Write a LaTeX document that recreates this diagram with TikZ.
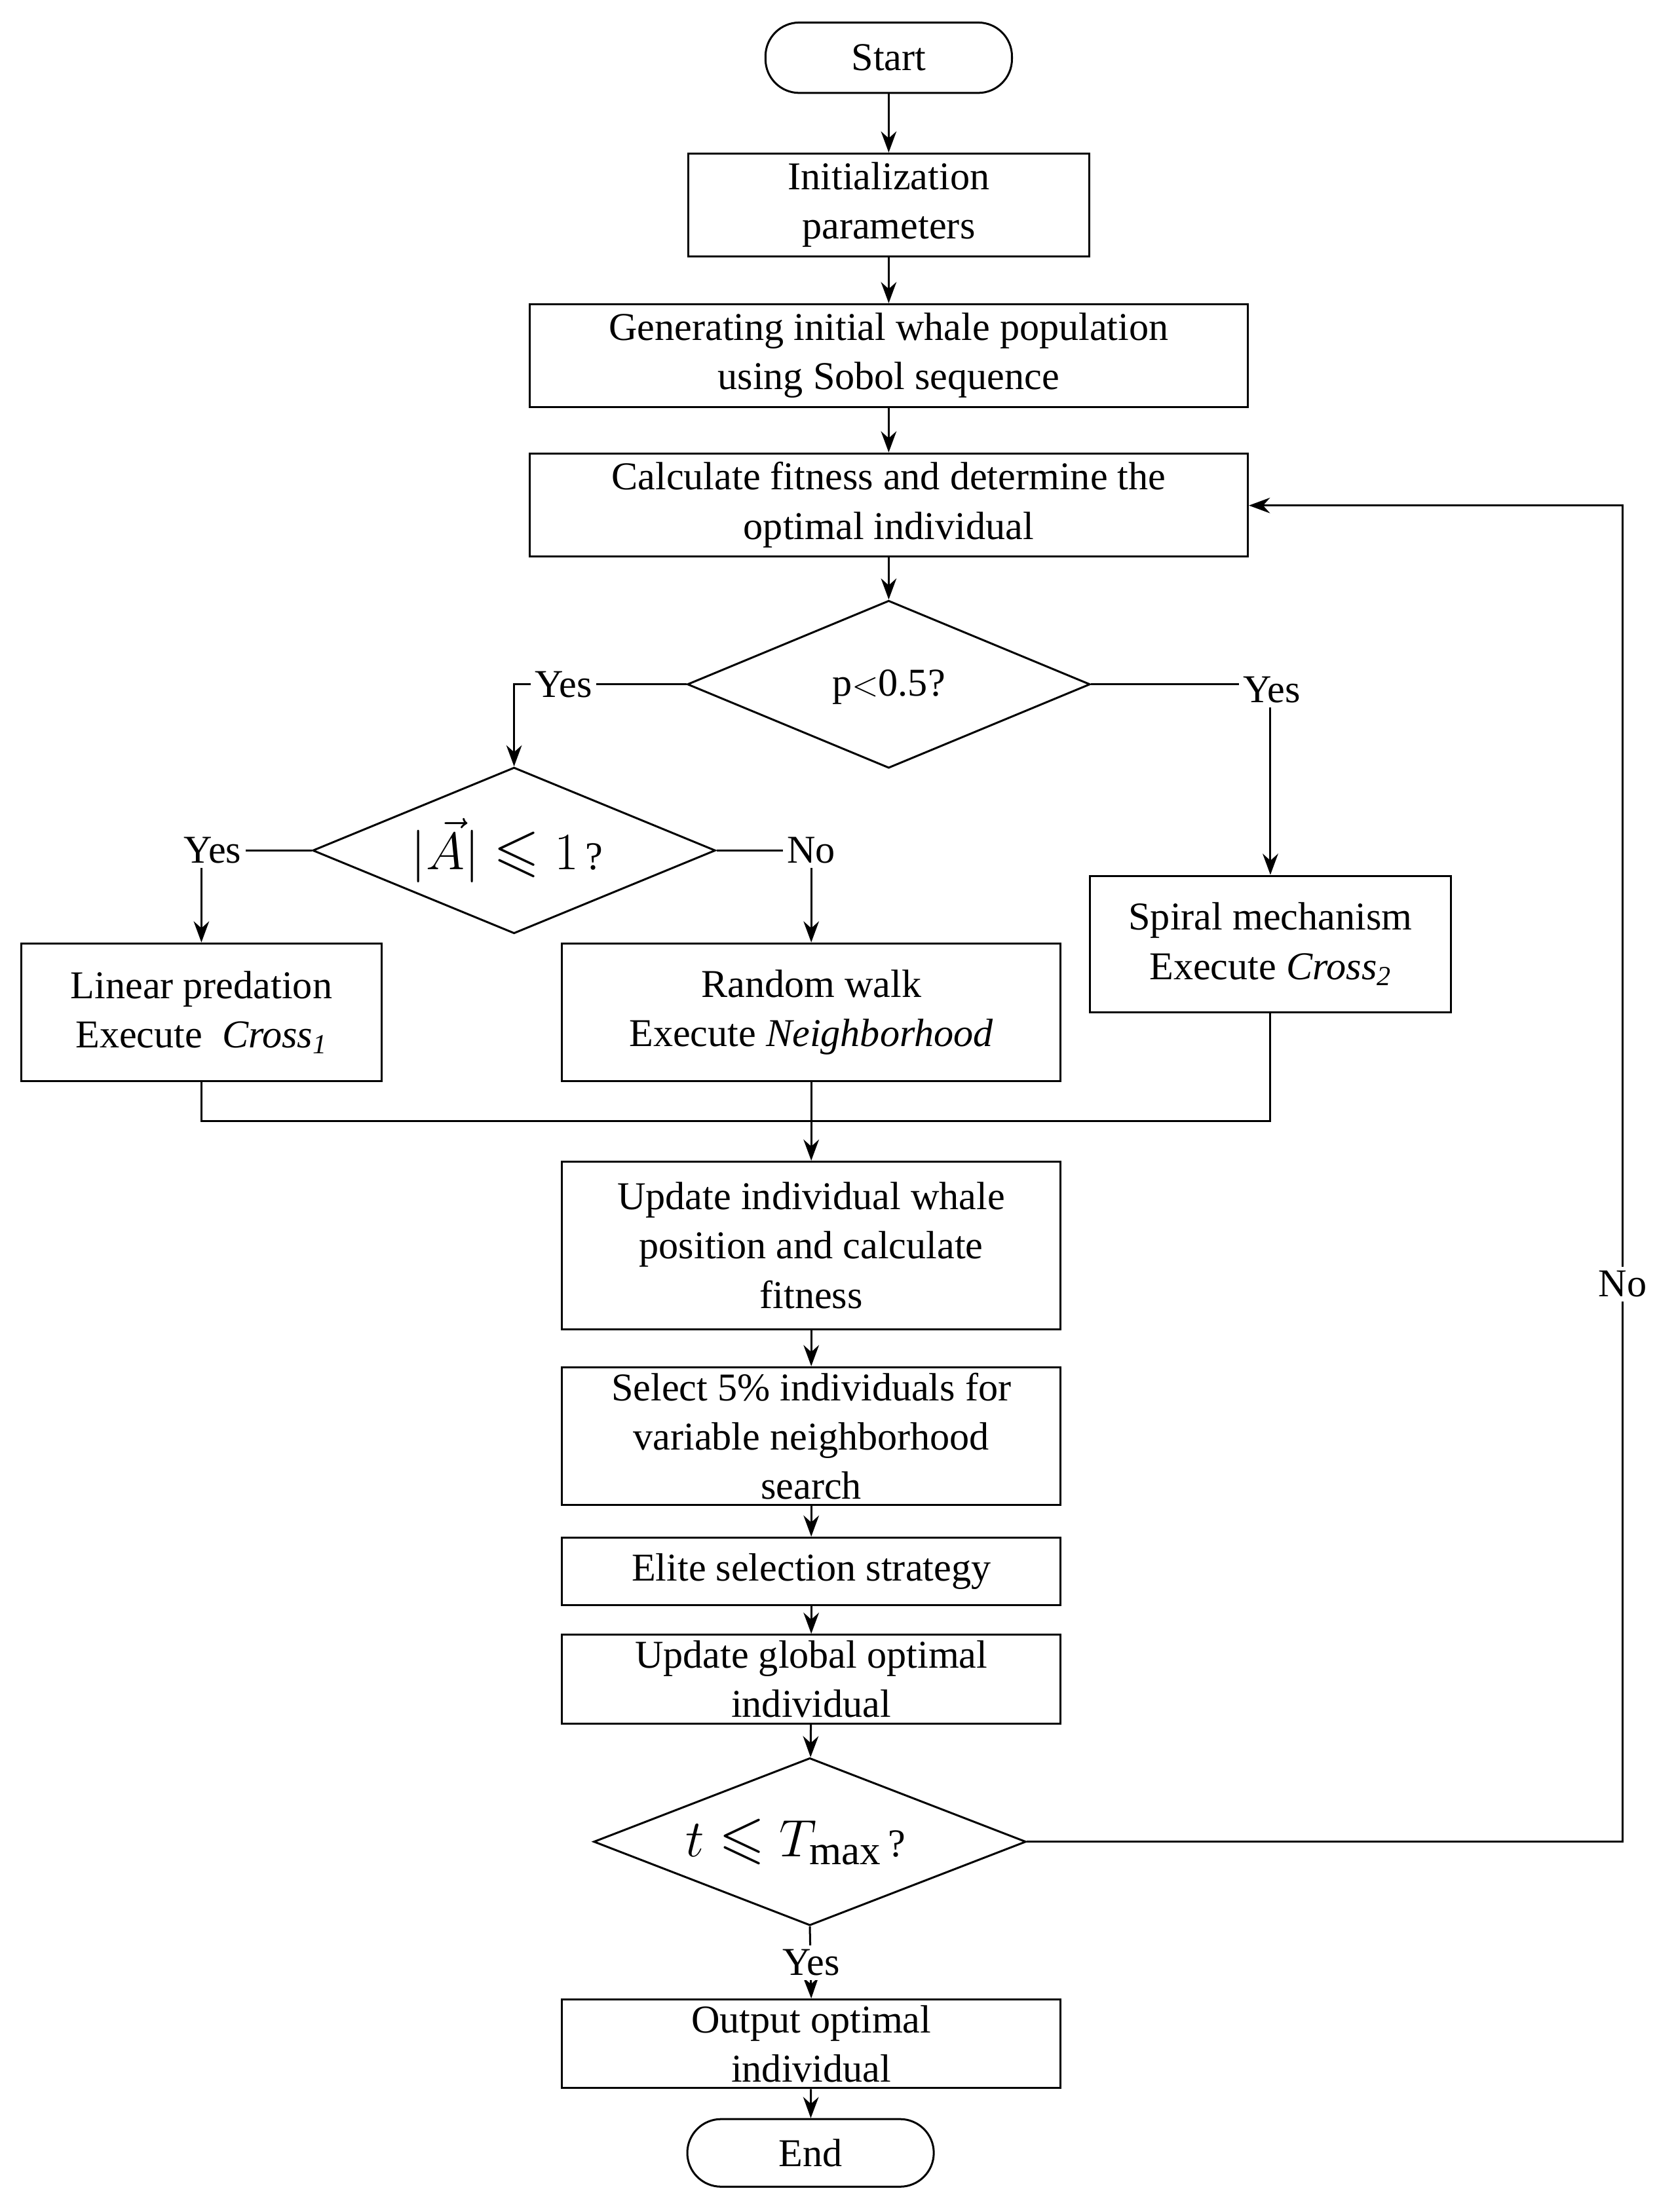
\documentclass[tikz,border=0pt]{standalone}
\usepackage{amssymb}
\usepackage{graphicx}
\usepackage{fontspec}
\setmainfont{Liberation Serif}
\usetikzlibrary{arrows.meta,shapes.geometric}
\begin{document}
\begin{tikzpicture}[x=1pt,y=-1pt,
  every node/.style={font=\fontsize{28}{35}\selectfont},
  box/.style={draw,line width=1.4pt,align=center,inner sep=0pt},
  term/.style={draw,line width=1.4pt,rounded corners=24pt,inner sep=0pt},
  dia/.style={draw,line width=1.4pt,diamond,inner sep=0pt,aspect=2.4},
  arr/.style={line width=1.4pt,-{Stealth[length=15pt,width=11pt]}},
  ln/.style={line width=1.4pt},
  lab/.style={fill=white,inner sep=3pt}]
\useasboundingbox (0,0) rectangle (1190,1571);
\node[term,minimum width=175pt,minimum height=50pt] (start) at (631,41) {Start};
\node[box,minimum width=285pt,minimum height=73pt] (init) at (631,145.5) {Initialization\\parameters};
\node[box,minimum width=510pt,minimum height=73pt] (gen) at (631,252.5) {Generating initial whale population\\using Sobol sequence};
\node[box,minimum width=510pt,minimum height=73pt] (calc) at (631,358.5) {Calculate fitness and determine the\\optimal individual};
\node[dia,minimum width=286pt,minimum height=119pt] (d1) at (631,486) {};
\node at (631,488) {p$<$0.5?};
\node[dia,minimum width=286pt,minimum height=118pt] (d2) at (365,604) {};
\node at (360,604) {\scalebox{1.5}{$\bigl|\vec{A}\bigr|\leqslant 1$}\,?};
\node[box,minimum width=256pt,minimum height=98pt] (lin) at (143,719) {Linear predation\\Execute\ \ \textit{Cross}\textsubscript{\textit{1}}};
\node[box,minimum width=354pt,minimum height=98pt] (rnd) at (576,719) {Random walk\\Execute \textit{Neighborhood}};
\node[box,minimum width=256pt,minimum height=97pt] (spi) at (902,670.5) {Spiral mechanism\\Execute \textit{Cross}\textsubscript{\textit{2}}};
\node[box,minimum width=354pt,minimum height=119pt] (upd) at (576,884.5) {Update individual whale\\position and calculate\\fitness};
\node[box,minimum width=354pt,minimum height=98pt] (sel) at (576,1020) {Select 5\% individuals for\\variable neighborhood\\search};
\node[box,minimum width=354pt,minimum height=48pt] (eli) at (576,1116) {Elite selection strategy};
\node[box,minimum width=354pt,minimum height=63pt] (glob) at (576,1192.5) {Update global optimal\\individual};
\node[dia,minimum width=307pt,minimum height=119pt] (d3) at (575,1308) {};
\node at (565,1308) {\scalebox{1.5}{$t\leqslant T_{\max}$}\,?};
\node[box,minimum width=354pt,minimum height=63pt] (out) at (576,1451.5) {Output optimal\\individual};
\node[term,minimum width=175pt,minimum height=48pt] (end) at (575.5,1529) {End};
\draw[arr] (start) -- (init);
\draw[arr] (init) -- (gen);
\draw[arr] (gen) -- (calc);
\draw[arr] (calc) -- (d1);
\draw[arr] (d1.west) -- (365,486) -- (d2.north);
\node[lab] at (400,486) {Yes};
\draw[arr] (d1.east) -- (902,486) -- (spi.north);
\node[lab] at (903,490) {Yes};
\draw[arr] (d2.west) -- (143,604) -- (lin.north);
\node[lab] at (151,604) {Yes};
\draw[arr] (d2.east) -- (576,604) -- (rnd.north);
\node[lab] at (576,604) {No};
\draw[ln] (lin.south) -- (143,796) -- (902,796) -- (spi.south);
\draw[arr] (rnd.south) -- (upd.north);
\draw[arr] (upd) -- (sel);
\draw[arr] (sel) -- (eli);
\draw[arr] (eli) -- (glob);
\draw[arr] (glob) -- (d3);
\draw[arr] (d3.south) -- (out.north);
\node[lab] at (576,1394) {Yes};
\draw[arr] (out) -- (end);
\draw[arr] (d3.east) -- (1152,1308) -- (1152,359) -- (calc.east |- 0,359);
\node[lab] at (1152,912) {No};
\end{tikzpicture}
\end{document}
